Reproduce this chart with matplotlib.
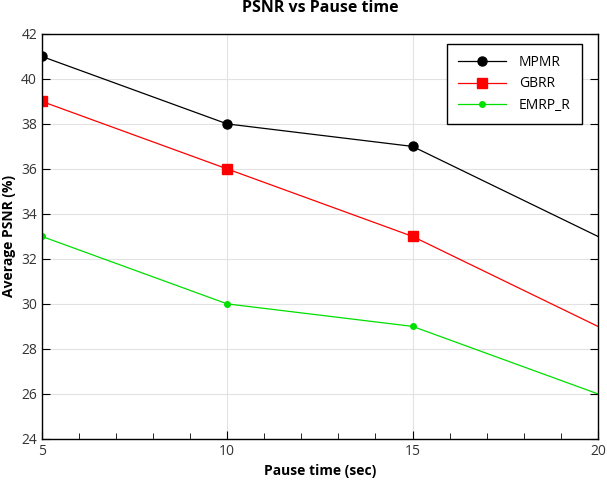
import numpy as np
import matplotlib.pyplot as plt
from matplotlib.ticker import MultipleLocator

plt.rcParams['font.family'] = ['Open Sans', 'DejaVu Sans']

# data
pause_time = [5, 10, 15, 20]
mpmr = [41, 38, 37, 33]
gbrr = [39, 36, 33, 29]
emrp_r = [33, 30, 29, 26]

fig = plt.figure(figsize=(6.07, 4.92), dpi=100)
ax = fig.add_axes([0.069, 0.108, 0.916, 0.823])

# last point has no visible marker in the original
ax.plot(pause_time, mpmr, color='black', marker='o', markersize=6.5, linewidth=0.9,
        markevery=[0, 1, 2], label='MPMR')
ax.plot(pause_time, gbrr, color='red', marker='s', markersize=6.5, linewidth=0.9,
        markevery=[0, 1, 2], label='GBRR')
ax.plot(pause_time, emrp_r, color='#00e000', marker='o', markersize=4, linewidth=0.9,
        markevery=[0, 1, 2], label='EMRP_R')

ax.set_xlim(5, 20)
ax.set_ylim(24, 42)
ax.xaxis.set_major_locator(MultipleLocator(5))
ax.xaxis.set_minor_locator(MultipleLocator(1))
ax.yaxis.set_major_locator(MultipleLocator(2))
ax.tick_params(which='both', direction='in', top=False, right=True, labelsize=10, labelcolor='#333333')
ax.tick_params(which='major', length=6)
ax.tick_params(which='minor', length=4)
for s in ax.spines.values():
    s.set_linewidth(1.0)
ax.grid(True, which='major', color='#e2e2e2', linewidth=0.8)

ax.set_title('PSNR vs Pause time', fontsize=11.5, fontweight='bold', pad=16)
ax.set_xlabel('Pause time (sec)', fontsize=10, fontweight='bold')
ax.set_ylabel('Average PSNR (%)', fontsize=10, fontweight='bold')

leg = ax.legend(loc='upper right', bbox_to_anchor=(0.971, 0.975), borderaxespad=0, fontsize=10,
                fancybox=False, framealpha=1, edgecolor='black', handlelength=3.5,
                handletextpad=0.9, borderpad=0.8, labelspacing=0.45)
leg.get_frame().set_linewidth(1.0)

plt.savefig('out.png', dpi=100)
